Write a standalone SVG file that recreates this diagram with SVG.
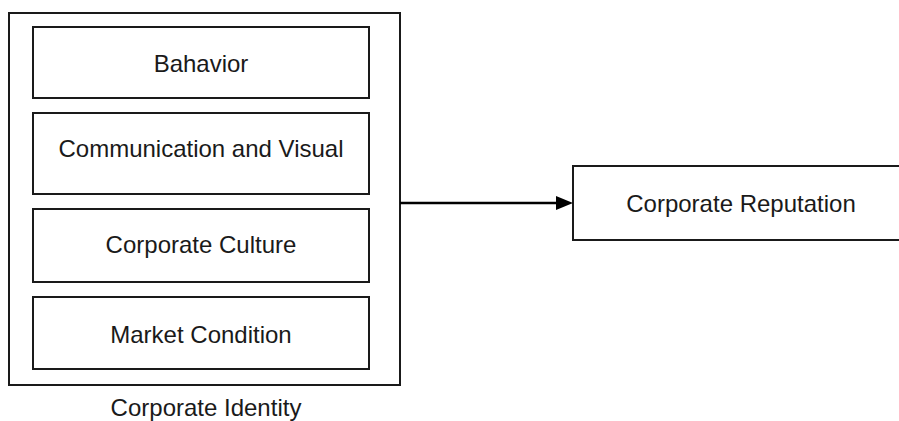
<svg xmlns="http://www.w3.org/2000/svg" width="899" height="421" viewBox="0 0 899 421">
<defs>
<style>
.box{fill:#fff;stroke:#1a1a1a;stroke-width:2}
.lbl{font-family:"Liberation Sans",Arial,sans-serif;font-size:24px;fill:#1a1a1a;text-anchor:middle}
.conn{stroke:#000;stroke-width:2.5;fill:none}
</style>
</defs>
<g id="corporate-identity">
<rect class="box" x="9" y="13" width="391" height="372"/>
<text class="lbl" x="206" y="416">Corporate Identity</text>
</g>
<g id="behavior">
<rect class="box" x="33" y="27" width="336" height="71"/>
<text class="lbl" x="201" y="72">Bahavior</text>
</g>
<g id="communication">
<rect class="box" x="33" y="113" width="336" height="81"/>
<text class="lbl" x="201" y="157">Communication and Visual</text>
</g>
<g id="culture">
<rect class="box" x="33" y="209" width="336" height="73"/>
<text class="lbl" x="201" y="253">Corporate Culture</text>
</g>
<g id="market">
<rect class="box" x="33" y="297" width="336" height="72"/>
<text class="lbl" x="201" y="343">Market Condition</text>
</g>
<g id="reputation">
<rect class="box" x="573" y="166" width="340" height="74"/>
<text class="lbl" x="741" y="212">Corporate Reputation</text>
</g>
<g id="connectors">
<path class="conn" d="M400,203 L557,203"/>
<path d="M556,196 L573,203 L556,210 Z" fill="#000"/>
</g>
</svg>
